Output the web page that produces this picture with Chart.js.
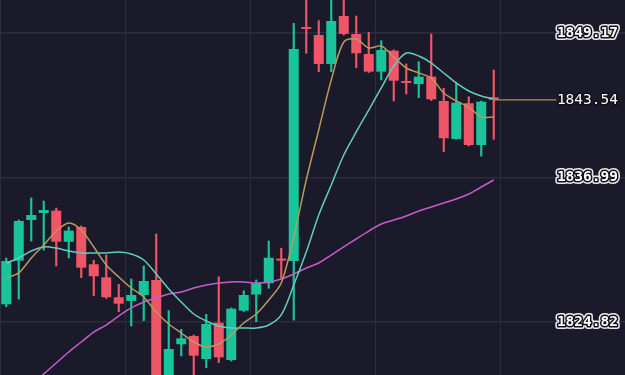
<!DOCTYPE html>
<html>
<head>
<meta charset="utf-8">
<script src="https://cdn.jsdelivr.net/npm/chart.js@4.4.1/dist/chart.umd.min.js"></script>
<style>
  html, body { margin: 0; padding: 0; background: #1b1a2b; }
  #wrap { width: 625px; height: 375px; }
</style>
</head>
<body>
<div id="wrap"><canvas id="kChart" width="625" height="375"></canvas></div>
<script>
// 40 candles, plus 10 empty slots on the right where the price labels sit
const labels = ['1','2','3','4','5','6','7','8','9','10','11','12','13','14','15','16','17','18','19','20',
  '21','22','23','24','25','26','27','28','29','30','31','32','33','34','35','36','37','38','39','40',
  '','','','','','','','','',''];

const opens  = [1826.31,1829.98,1833.41,1834.00,1834.20,1831.58,1832.82,1829.68,1828.58,1826.90,
                1826.59,1827.09,1828.36,1819.90,1822.94,1823.64,1821.70,1824.76,1821.61,1825.77,
                1827.13,1828.08,1830.08,1829.96,1849.63,1849.00,1846.56,1850.60,1849.09,1847.40,
                1845.91,1847.68,1845.08,1844.87,1845.49,1843.44,1840.24,1843.25,1839.73,1843.75];
const closes = [1829.96,1833.33,1833.83,1834.25,1831.58,1832.51,1829.39,1828.67,1826.90,1826.36,
                1827.09,1828.27,1819.80,1822.54,1823.44,1821.98,1824.65,1821.84,1825.94,1827.09,
                1828.10,1830.23,1829.99,1847.82,1849.51,1846.56,1850.18,1849.09,1847.46,1845.91,
                1847.74,1845.15,1844.96,1845.49,1843.58,1840.30,1843.30,1839.73,1843.38,1843.54];
const highs  = [1830.20,1833.41,1835.27,1835.01,1834.42,1832.82,1832.91,1830.02,1830.46,1827.99,
                1828.44,1829.54,1832.23,1825.77,1824.20,1823.72,1825.46,1828.63,1826.00,1827.45,
                1828.36,1831.64,1831.03,1849.99,1852.50,1850.21,1852.50,1852.60,1850.60,1849.23,
                1848.52,1847.74,1846.56,1846.75,1849.09,1844.51,1844.93,1843.80,1843.44,1846.05];
const lows   = [1826.10,1826.75,1831.64,1830.88,1829.54,1830.21,1828.55,1827.03,1826.80,1825.68,
                1824.48,1824.93,1819.50,1819.50,1821.95,1820.10,1820.96,1821.39,1821.53,1825.70,
                1824.84,1827.66,1828.50,1824.98,1847.46,1845.91,1845.91,1849.00,1846.25,1845.84,
                1845.21,1843.44,1844.03,1843.72,1843.48,1839.17,1840.20,1839.65,1838.80,1840.21];

// moving averages
const ma5  = [1828.52,1828.95,1830.21,1831.30,1832.48,1833.16,1832.57,1831.14,1829.62,1828.61,
              1827.68,1826.92,1825.66,1824.65,1823.89,1823.13,1822.71,1822.96,1823.72,1824.73,
              1825.49,1826.67,1828.10,1831.98,1836.78,1841.00,1845.21,1848.41,1848.66,1847.91,
              1848.07,1847.15,1846.22,1845.80,1845.38,1844.11,1843.44,1842.93,1842.09,1842.09];
const ma10 = [1829.79,1830.21,1830.80,1831.14,1831.05,1830.80,1830.63,1830.63,1830.63,1830.71,
              1830.55,1830.04,1828.86,1827.60,1826.50,1825.49,1824.90,1824.48,1824.31,1824.31,
              1824.31,1824.56,1825.41,1827.93,1830.71,1833.83,1836.36,1838.89,1840.83,1842.68,
              1844.54,1846.39,1847.48,1847.23,1846.64,1845.80,1844.96,1844.28,1843.86,1843.61];
const ma30 = [null,null,1819.51,1820.43,1821.36,1822.29,1823.13,1823.97,1824.56,1825.32,
              1826.00,1826.50,1826.84,1827.18,1827.34,1827.68,1827.93,1828.10,1828.19,1828.19,
              1828.10,1828.19,1828.44,1828.86,1829.37,1829.79,1830.46,1831.14,1831.81,1832.48,
              1833.07,1833.41,1833.75,1834.17,1834.51,1834.84,1835.18,1835.60,1836.19,1836.78];

const yTicks = [1824.82, 1836.99, 1843.54, 1849.17];
const lastPrice = 1843.54;
const priceLine = [null,null,null,null,null,null,null,null,null,null,
                   null,null,null,null,null,null,null,null,null,null,
                   null,null,null,null,null,null,null,null,null,null,
                   null,null,null,null,null,null,null,null,null,lastPrice,
                   lastPrice,lastPrice,lastPrice,lastPrice,lastPrice,null,null,null,null,null];

const UP = '#19c49b';
const DOWN = '#ee5667';
const GRID = '#2d2b3f';

const bodies = opens.map((o, i) => [o, closes[i]]);
const wicks = lows.map((l, i) => [l, highs[i]]);
const candleColors = opens.map((o, i) => closes[i] >= o ? UP : DOWN);

function tickFont(ctx) {
    if (ctx.tick && ctx.tick.value === lastPrice) {
        return { family: 'DejaVu Sans Mono', size: 14.5, weight: 'normal' };
    }
    return { family: 'DejaVu Sans Mono', size: 14.5, weight: 'bold' };
}

function setTicks(scale) {
    scale.ticks = yTicks.map(v => ({ value: v }));
}

// keep the plot area at the full canvas size
function flatY(s) {
    s.width = 0;
    s.paddingTop = 0;
    s.paddingBottom = 0;
}

// round joins so the outlined labels have no miter spikes
const roundJoins = {
    id: 'roundJoins',
    beforeDraw(chart) {
        chart.ctx.lineJoin = 'round';
        chart.ctx.miterLimit = 2;
    }
};

const yBase = {
    position: 'right',
    min: 1820.35,
    max: 1851.95,
    afterBuildTicks: setTicks,
    afterFit: flatY,
    border: { display: false },
};

new Chart(document.getElementById('kChart'), {
    data: {
        labels: labels,
        datasets: [
            { type: 'line', data: priceLine, borderColor: '#b0925a', borderWidth: 1.2,
              pointRadius: 0, order: 0, yAxisID: 'y' },
            { type: 'line', data: ma5, borderColor: '#b89a5c', borderWidth: 1.5,
              pointRadius: 0, tension: 0.3, order: 1, yAxisID: 'y' },
            { type: 'line', data: ma10, borderColor: '#62cdbd', borderWidth: 1.5,
              pointRadius: 0, tension: 0.3, order: 1, yAxisID: 'y' },
            { type: 'line', data: ma30, borderColor: '#c65dc6', borderWidth: 1.5,
              pointRadius: 0, tension: 0.3, order: 1, yAxisID: 'y' },
            { type: 'bar', data: bodies, backgroundColor: candleColors, grouped: false,
              barPercentage: 0.8, categoryPercentage: 1, minBarLength: 2, order: 2, yAxisID: 'y' },
            { type: 'bar', data: wicks, backgroundColor: candleColors, grouped: false,
              barThickness: 1.5, order: 3, yAxisID: 'y' }
        ]
    },
    plugins: [roundJoins],
    options: {
        responsive: false,
        animation: false,
        layout: { padding: 0 },
        plugins: { legend: { display: false }, tooltip: { enabled: false } },
        scales: {
            x: {
                offset: true,
                border: { display: false },
                afterFit: s => { s.height = 0; s.paddingLeft = 0; s.paddingRight = 0; },
                grid: {
                    offset: true,
                    drawTicks: false,
                    lineWidth: 1,
                    color: ctx => (ctx.index % 10 === 0 ? GRID : 'rgba(0,0,0,0)')
                },
                ticks: { display: false, autoSkip: false }
            },
            yHalo: Object.assign({}, yBase, {
                grid: { display: false },
                ticks: {
                    mirror: true, padding: -7, z: 1,
                    font: tickFont,
                    color: ctx => (ctx.tick.value === lastPrice ? 'rgba(0,0,0,0)' : '#f2f2f2'),
                    textStrokeColor: ctx => (ctx.tick.value === lastPrice ? 'rgba(0,0,0,0)' : '#e8e8ee'),
                    textStrokeWidth: 6,
                    callback: v => v.toFixed(2)
                }
            }),
            y: Object.assign({}, yBase, {
                grid: {
                    drawTicks: false,
                    lineWidth: 1.5,
                    color: ctx => (ctx.tick && ctx.tick.value === lastPrice ? 'rgba(0,0,0,0)' : GRID)
                },
                ticks: {
                    mirror: true, padding: -7, z: 2,
                    font: tickFont,
                    color: '#ffffff',
                    textStrokeColor: '#111018',
                    textStrokeWidth: 3,
                    callback: v => v.toFixed(2)
                }
            })
        }
    }
});
</script>
</body>
</html>
